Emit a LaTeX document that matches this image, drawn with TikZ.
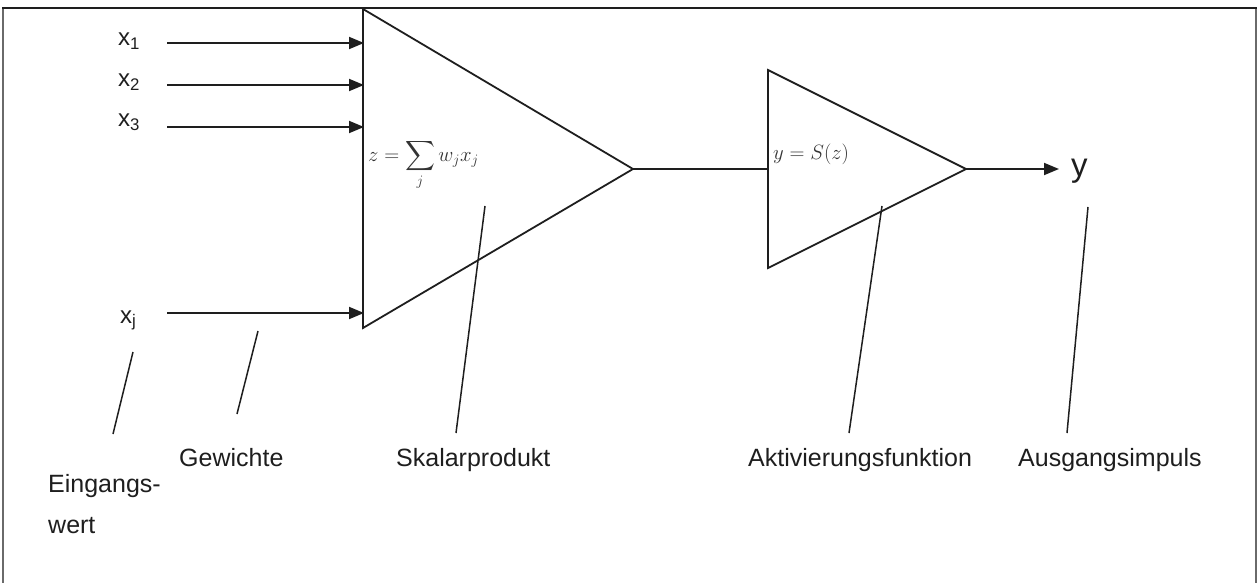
\documentclass[tikz,border=0pt]{standalone}
\usepackage{amsmath}
\usepackage[no-math]{fontspec}
\setmainfont{Liberation Sans}
\usetikzlibrary{arrows.meta}
\definecolor{ink}{HTML}{1E1E1E}
\definecolor{frmgray}{HTML}{6A6A6A}
\definecolor{mathgray}{HTML}{333333}
\begin{document}
\begin{tikzpicture}[x=1pt,y=-1pt,
  lbl/.style={font=\fontsize{25}{30}\selectfont, text=ink, inner sep=0pt, anchor=base west},
  inlbl/.style={font=\fontsize{24}{28}\selectfont, text=ink, inner sep=0pt, anchor=base west},
  frm/.style={font=\fontsize{20}{24}\selectfont, text=mathgray, inner sep=0pt, anchor=base west},
  wire/.style={draw=ink, line width=1.8pt},
  arr/.style={wire, -{Triangle[length=15pt,width=12pt]}},
  pointer/.style={draw=ink, line width=1.5pt}]
\useasboundingbox (0,0) rectangle (1258,583);
% frame
\draw[frmgray, line width=1.8pt] (3,583) -- (3,8);
\draw[frmgray, line width=1.8pt] (1256,8) -- (1256,583);
\draw[ink, line width=2.8pt] (2,8) -- (1257,8);
% triangles
\coordinate (t1top) at (363,9);
\coordinate (t1bot) at (363,328);
\coordinate (t1apex) at (633,169);
\coordinate (t2top) at (768,70);
\coordinate (t2bot) at (768,268);
\coordinate (t2apex) at (966,169);
\draw[wire, line join=miter] (t1top) -- (t1apex) -- (t1bot) -- cycle;
\draw[wire, line join=miter] (t2top) -- (t2apex) -- (t2bot) -- cycle;
\coordinate (t2in) at (768,169);
\draw[wire] (t1apex) -- (t2in);
% output
\node[font=\fontsize{33}{36}\selectfont, text=ink, inner sep=0pt, anchor=base west] (y) at (1071,176) {y};
\coordinate (yarr) at (1059,169);
\draw[arr] (t2apex) -- (yarr);
% inputs
\node[inlbl] (x1) at (118,46) {x\textsubscript{1}};
\node[inlbl] (x2) at (118,87) {x\textsubscript{2}};
\node[inlbl] (x3) at (118,127) {x\textsubscript{3}};
\node[inlbl] (xj) at (120,323) {x\textsubscript{j}};
\coordinate (a1s) at (167,43);  \coordinate (a1e) at (364,43);
\coordinate (a2s) at (167,85);  \coordinate (a2e) at (364,85);
\coordinate (a3s) at (167,127); \coordinate (a3e) at (364,127);
\coordinate (ajs) at (167,313); \coordinate (aje) at (364,313);
\draw[arr] (a1s) -- (a1e);
\draw[arr] (a2s) -- (a2e);
\draw[arr] (a3s) -- (a3e);
\draw[arr] (ajs) -- (aje);
% formulas
\node[frm] (sum) at (368,161) {$\displaystyle z=\sum\limits_j w_j x_j$};
\node[frm] (act) at (773,159) {$y=S(z)$};
% labels
\node[lbl] (ein1) at (48,492) {Eingangs-};
\node[lbl] (ein2) at (48,533) {wert};
\node[lbl] (gew) at (179,466) {Gewichte};
\node[lbl] (skal) at (396,466) {Skalarprodukt};
\node[lbl] (akt) at (748,466) {Aktivierungsfunktion};
\node[lbl] (aus) at (1018,466) {Ausgangsimpuls};
% pointer lines
\coordinate (p1a) at (133,352); \coordinate (p1b) at (113,434);
\coordinate (p2a) at (258,331); \coordinate (p2b) at (237,414);
\coordinate (p3a) at (485,206); \coordinate (p3b) at (456,433);
\coordinate (p4a) at (882,206); \coordinate (p4b) at (849,433);
\coordinate (p5a) at (1088,207); \coordinate (p5b) at (1067,433);
\draw[pointer] (p1a) -- (p1b);
\draw[pointer] (p2a) -- (p2b);
\draw[pointer] (p3a) -- (p3b);
\draw[pointer] (p4a) -- (p4b);
\draw[pointer] (p5a) -- (p5b);
\end{tikzpicture}
\end{document}
